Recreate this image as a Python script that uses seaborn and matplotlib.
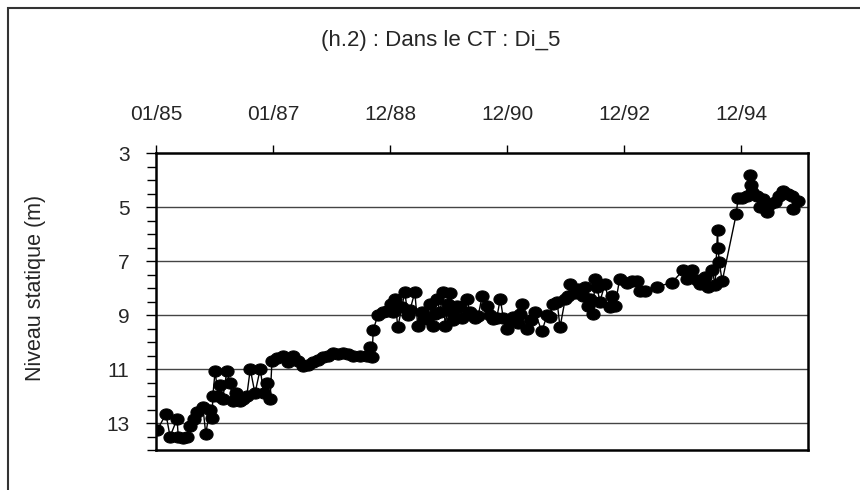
import pandas as pd
import numpy as np
import seaborn as sns
import matplotlib.pyplot as plt
from matplotlib.ticker import MultipleLocator
from matplotlib.patches import Rectangle
from matplotlib.path import Path

# Readings (decimal year, static level in m) taken off the reference chart
years = [
    1985.02, 1985.17, 1985.24, 1985.36, 1985.38, 1985.46, 1985.53, 1985.58, 1985.65, 1985.70,
    1985.80, 1985.85, 1985.92, 1985.96, 1985.97, 1986.01, 1986.06, 1986.14, 1986.21, 1986.26,
    1986.32, 1986.43, 1986.55, 1986.61, 1986.69, 1986.78, 1986.84, 1986.90, 1986.95, 1986.98,
    1987.07, 1987.17, 1987.25, 1987.34, 1987.43, 1987.51, 1987.60, 1987.68, 1987.77, 1987.85,
    1987.94, 1988.02, 1988.11, 1988.19, 1988.28, 1988.36, 1988.48, 1988.60, 1988.66, 1988.69,
    1988.71, 1988.79, 1988.88, 1988.95, 1989.01, 1989.08, 1989.13, 1989.20, 1989.25, 1989.34,
    1989.42, 1989.47, 1989.54, 1989.63, 1989.68, 1989.73, 1989.80, 1989.85, 1989.90, 1989.94,
    1989.99, 1990.02, 1990.07, 1990.14, 1990.23, 1990.31, 1990.36, 1990.45, 1990.57, 1990.65,
    1990.76, 1990.88, 1990.93, 1990.99, 1991.10, 1991.18, 1991.25, 1991.34, 1991.40, 1991.47,
    1991.59, 1991.68, 1991.73, 1991.78, 1991.85, 1991.90, 1991.99, 1992.04, 1992.07, 1992.16,
    1992.21, 1992.29, 1992.33, 1992.38, 1992.41, 1992.46, 1992.50, 1992.53, 1992.58, 1992.67,
    1992.75, 1992.79, 1992.84, 1992.92, 1993.04, 1993.13, 1993.22, 1993.27, 1993.35, 1993.56,
    1993.81, 1994.00, 1994.07, 1994.15, 1994.24, 1994.29, 1994.38, 1994.43, 1994.50, 1994.55,
    1994.59, 1994.60, 1994.62, 1994.67, 1994.91, 1994.94, 1995.01, 1995.09, 1995.15, 1995.16,
    1995.18, 1995.26, 1995.32, 1995.37, 1995.44, 1995.49, 1995.57, 1995.64, 1995.71, 1995.79,
    1995.86, 1995.88, 1995.96,
]
levels = [
    13.26, 12.67, 13.5, 12.85, 13.5, 13.55, 13.5, 13.1, 12.85, 12.6,
    12.4, 13.4, 12.5, 12.8, 12.0, 11.07, 12.0, 12.1, 11.07, 11.5,
    12.2, 12.2, 12.0, 11.0, 11.9, 11.0, 11.9, 11.5, 12.1, 10.7,
    10.6, 10.5, 10.75, 10.5, 10.7, 10.9, 10.85, 10.75, 10.65, 10.55,
    10.5, 10.4, 10.45, 10.4, 10.45, 10.5, 10.5, 10.5, 10.2, 10.55,
    9.55, 9.0, 8.9, 8.85, 8.6, 8.4, 9.45, 8.7, 8.15, 8.8,
    8.15, 9.4, 8.9, 9.15, 8.6, 9.4, 8.4, 8.9, 8.15, 9.4,
    8.6, 8.2, 9.2, 8.65, 9.1, 8.4, 8.9, 9.1, 8.3, 8.65,
    9.15, 8.4, 9.1, 9.5, 9.07, 9.3, 8.6, 9.5, 9.2, 8.9,
    9.6, 9.0, 9.07, 8.6, 8.5, 9.45, 8.4, 8.3, 7.85, 8.2,
    8.05, 8.3, 7.95, 8.65, 8.4, 8.96, 7.65, 7.95, 8.5, 7.85,
    8.7, 8.3, 8.65, 7.65, 7.8, 7.75, 7.75, 8.1, 8.1, 7.95,
    7.8, 7.35, 7.65, 7.35, 7.7, 7.85, 7.6, 7.95, 7.35, 7.9,
    5.85, 6.5, 7.05, 7.75, 5.26, 4.67, 4.65, 4.6, 3.8, 4.2,
    4.45, 4.6, 5.0, 4.7, 5.2, 4.9, 4.8, 4.6, 4.4, 4.5,
    4.6, 5.07, 4.78,
]
# extra readings inside the dense 1986-1991 clusters
extra_years = [1986.10, 1986.37, 1986.49, 1989.05, 1989.30, 1989.58, 1989.76, 1990.05,
               1990.19, 1990.40, 1990.50, 1990.70, 1990.82, 1991.05, 1991.22]
extra_levels = [11.6, 11.9, 12.1, 8.9, 9.0, 9.1, 8.95, 8.9,
                8.7, 9.0, 9.05, 9.0, 9.1, 9.2, 8.95]

x_ticks = ["1985-01-01", "1987-01-01", "1988-12-31", "1990-12-31", "1992-12-30", "1994-12-30"]
x_labels = ["01/85", "01/87", "12/88", "12/90", "12/92", "12/94"]
y_ticks = [3, 5, 7, 9, 11, 13]

start = pd.Timestamp("1985-01-01")
all_years = years + extra_years
df = pd.DataFrame({
    "date": [start + pd.Timedelta(days=(y - 1985) * 365.25) for y in all_years],
    "level": levels + extra_levels,
}).sort_values("date", kind="stable")

sns.set_theme(style="white")
plt.rcParams["font.family"] = ["Liberation Sans", "DejaVu Sans"]

# slightly flattened round marker, like the original spreadsheet chart
t = np.linspace(0, 2 * np.pi, 40)
ellipse = Path(np.column_stack([np.cos(t), 0.85 * np.sin(t)]), closed=True)

fig = plt.figure(figsize=(8.6, 4.9), dpi=100)
ax = fig.add_axes([0.1814, 0.0816, 0.7581, 0.6061])

sns.lineplot(data=df, x="date", y="level", ax=ax, estimator=None, sort=False,
             color="black", lw=1, marker=ellipse, markersize=9.5,
             markerfacecolor="black", markeredgecolor="black")

ax.set_xlim(pd.Timestamp("1985-01-01"), pd.Timestamp("1996-02-20"))
ax.set_ylim(14, 3)

ax.xaxis.tick_top()
ax.set_xticks([pd.Timestamp(s) for s in x_ticks])
ax.set_xticklabels(x_labels)
ax.set_yticks(y_ticks)
ax.yaxis.set_minor_locator(MultipleLocator(0.5))
ax.tick_params(axis="x", which="major", top=True, bottom=False, direction="out",
               length=6, width=1, color="black", pad=15, labelsize=15)
ax.tick_params(axis="y", which="major", left=True, direction="out",
               length=7, width=1, color="black", pad=12, labelsize=15)
ax.tick_params(axis="y", which="minor", left=True, direction="out",
               length=6.5, width=1, color="black")

ax.grid(False)
for v in y_ticks[1:]:
    ax.axhline(v, color="#444444", lw=1, zorder=0)

for s in ax.spines.values():
    s.set_color("black")
    s.set_linewidth(1.8)

ax.set_xlabel("")
ax.set_ylabel("Niveau statique (m)", fontsize=15.5)
ax.yaxis.set_label_coords(-0.168, 0.545)

fig.text(0.513, 0.918, "(h.2) : Dans le CT : Di_5", ha="center", va="center", fontsize=16)

fig.patches.append(Rectangle((8 / 860, -0.1), 1.2, 1 - 8 / 490 + 0.1, transform=fig.transFigure,
                             fill=False, edgecolor="#333333", lw=1.5))

fig.savefig("out.png", dpi=100)
